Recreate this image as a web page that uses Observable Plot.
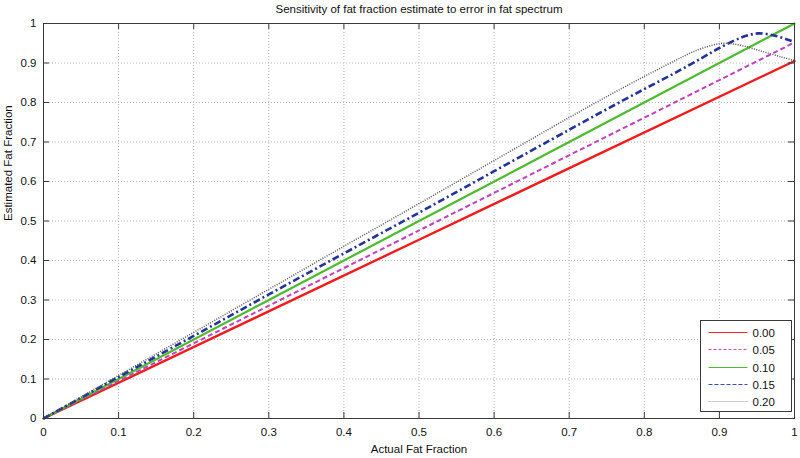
<!DOCTYPE html>
<html><head><meta charset="utf-8">
<script src="https://cdn.jsdelivr.net/npm/d3@7"></script>
<script src="https://cdn.jsdelivr.net/npm/@observablehq/plot@0.6"></script>
<style>body{margin:0;background:#fff}</style>
</head><body><div id="chart"></div>
<script>
const titleText = "Sensitivity of fat fraction estimate to error in fat spectrum";
const xLabelText = "Actual Fat Fraction";
const yLabelText = "Estimated Fat Fraction";
const seriesNames = ["0.00", "0.05", "0.10", "0.15", "0.20"];
const xTicks = [0, 0.1, 0.2, 0.3, 0.4, 0.5, 0.6, 0.7, 0.8, 0.9, 1];
const yTicks = [0, 0.1, 0.2, 0.3, 0.4, 0.5, 0.6, 0.7, 0.8, 0.9, 1];
const tickLabels = ["0", "0.1", "0.2", "0.3", "0.4", "0.5", "0.6", "0.7", "0.8", "0.9", "1"];

// series
const x00 = [0, 0.5, 1];
const y00 = [0, 0.4525, 0.905];
const x05 = [0, 0.5, 1];
const y05 = [0, 0.476, 0.952];
const x10 = [0, 0.5, 1];
const y10 = [0, 0.5, 1];
const x15 = [0, 0.1, 0.2, 0.3, 0.4, 0.5, 0.6, 0.7, 0.75, 0.8, 0.84, 0.876, 0.9, 0.93, 0.952, 0.974, 0.991, 1];
const y15 = [0, 0.105, 0.209, 0.314, 0.418, 0.521, 0.626, 0.731, 0.783, 0.834, 0.874, 0.912, 0.938, 0.965, 0.975, 0.969, 0.959, 0.953];
const x20 = [0, 0.1, 0.2, 0.3, 0.4, 0.5, 0.6, 0.7, 0.75, 0.8, 0.84, 0.86, 0.88, 0.905, 0.93, 0.956, 0.983, 1];
const y20 = [0, 0.109, 0.218, 0.327, 0.436, 0.544, 0.653, 0.762, 0.815, 0.866, 0.905, 0.924, 0.939, 0.950, 0.944, 0.930, 0.915, 0.906];

const toRows = (xs, ys) => xs.map((x, i) => ({x, y: ys[i]}));
const styles = [
  {stroke: "#f21a1a", strokeWidth: 2.4},
  {stroke: "#c23fbf", strokeWidth: 2, strokeDasharray: "5,3", strokeLinecap: "butt"},
  {stroke: "#4cbc2e", strokeWidth: 2.2},
  {stroke: "#23339b", strokeWidth: 2.6, strokeDasharray: "7,3,2,3", strokeLinecap: "butt"},
  {stroke: "#555", strokeWidth: 1.5, strokeDasharray: "1,1.4", strokeLinecap: "butt"}
];
const data = [toRows(x00, y00), toRows(x05, y05), toRows(x10, y10), toRows(x15, y15), toRows(x20, y20)];

const fmt = d => tickLabels[xTicks.indexOf(d)] ?? String(d);
const W = 800, H = 458, mL = 43, mR = 6, mT = 23, mB = 40;
const fw = W - mL - mR, fh = H - mT - mB;
const tk = 6;
const frameColor = "#3a3a3a";

const plot = Plot.plot({
  width: W, height: H,
  marginLeft: mL, marginRight: mR, marginTop: mT, marginBottom: mB,
  style: {fontFamily: "'Liberation Sans', Arial, sans-serif", fontSize: "11.5px", color: "#111", background: "#fff"},
  x: {domain: [0, 1]},
  y: {domain: [0, 1]},
  marks: [
    Plot.gridX(xTicks, {stroke: "#b8b8b8", strokeOpacity: 1, strokeDasharray: "1,2"}),
    Plot.gridY(yTicks, {stroke: "#b8b8b8", strokeOpacity: 1, strokeDasharray: "1,2"}),
    ...data.map((rows, i) => Plot.line(rows, {x: "x", y: "y", ...styles[i], curve: "catmull-rom"})),
    Plot.tickX(xTicks, {x: d => d, insetTop: fh - tk, stroke: frameColor}),
    Plot.tickX(xTicks, {x: d => d, insetBottom: fh - tk, stroke: frameColor}),
    Plot.tickY(yTicks, {y: d => d, insetRight: fw - tk, stroke: frameColor}),
    Plot.tickY(yTicks, {y: d => d, insetLeft: fw - tk, stroke: frameColor}),
    Plot.frame({stroke: frameColor}),
    Plot.axisX(xTicks, {tickSize: 0, tickPadding: 9, tickFormat: fmt, label: null}),
    Plot.axisY(yTicks, {tickSize: 0, tickPadding: 7, tickFormat: fmt, label: null}),
    Plot.text([titleText], {frameAnchor: "top", dy: -14, lineAnchor: "middle", fontSize: 11.5}),
    Plot.text([xLabelText], {frameAnchor: "bottom", dy: 31, lineAnchor: "middle", fontSize: 11.5}),
    Plot.text([yLabelText], {frameAnchor: "left", dx: -35, rotate: -90, lineAnchor: "middle", fontSize: 11.5})
  ]
});
document.getElementById("chart").appendChild(plot);

// legend
const svg = d3.select(plot);
const lg = svg.append("g").attr("font-family", "'Liberation Sans', Arial, sans-serif")
  .attr("font-size", 11.5).attr("text-anchor", "start");
const bx = 700.5, by = 320.5, bw = 91, bh = 91;
lg.append("rect").attr("x", bx).attr("y", by).attr("width", bw).attr("height", bh)
  .attr("fill", "#fff").attr("stroke", frameColor);
const legendStyles = [
  {stroke: "#ff2020", dash: null},
  {stroke: "#c24fc2", dash: "3,2"},
  {stroke: "#4cbc2e", dash: null},
  {stroke: "#3a4cc0", dash: "4,2"},
  {stroke: "#999", dash: "1,1"}
];
seriesNames.forEach((name, i) => {
  const yy = Math.round(by + 11.5 + i * 17.3) + 0.5;
  const l = lg.append("line").attr("x1", bx + 8).attr("x2", bx + 47).attr("y1", yy).attr("y2", yy)
    .attr("stroke", legendStyles[i].stroke).attr("stroke-width", 1);
  if (legendStyles[i].dash) l.attr("stroke-dasharray", legendStyles[i].dash);
  lg.append("text").attr("x", bx + 52).attr("y", yy).attr("dy", "0.35em")
    .attr("text-anchor", "start").attr("fill", "#111").text(name);
});
</script></body></html>
